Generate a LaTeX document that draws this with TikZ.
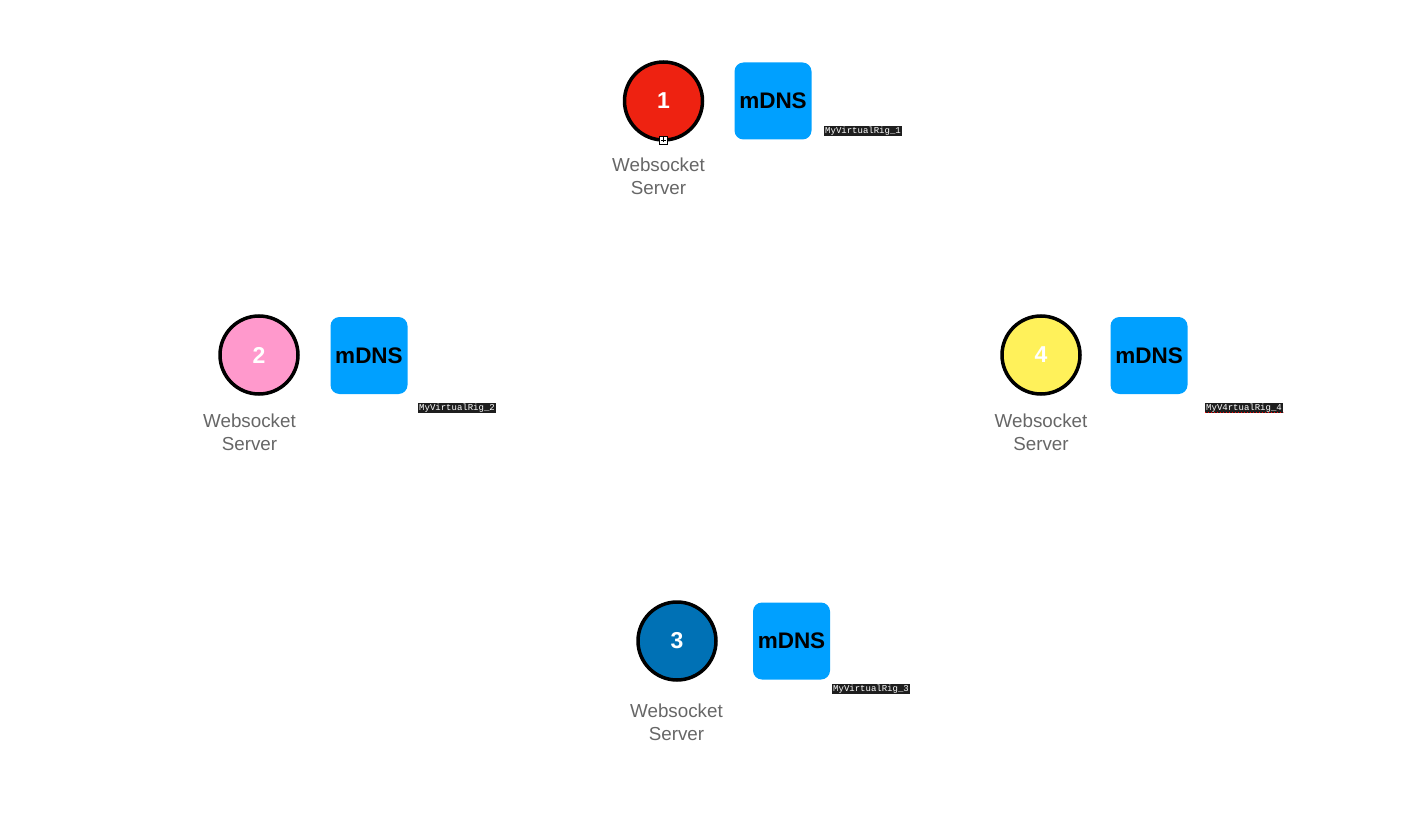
\documentclass[tikz,border=0pt]{standalone}
\usepackage{fontspec}
\setmainfont{Liberation Sans}
\newfontfamily\monofont{Liberation Mono}
\definecolor{cred}{HTML}{EE2211}
\definecolor{cpink}{HTML}{FF99CC}
\definecolor{cyellow}{HTML}{FFF15A}
\definecolor{cblue}{HTML}{0071B5}
\definecolor{mdnsblue}{HTML}{00A0FF}
\definecolor{lblgray}{HTML}{666666}
\definecolor{tagbg}{HTML}{1E1E1E}
\begin{document}
\begin{tikzpicture}[x=1pt,y=-1pt,
  server/.style={circle,draw=black,line width=3.5pt,minimum size=78pt,inner sep=0pt,
    font=\fontsize{23}{25}\selectfont\bfseries,text=white},
  mdns/.style={rounded corners=9pt,fill=mdnsblue,minimum size=77pt,inner sep=0pt,
    font=\fontsize{22.5}{24}\selectfont\bfseries,text=black},
  wslabel/.style={align=center,text=lblgray,font=\fontsize{18.8}{23}\selectfont,inner sep=0pt},
  tag/.style={fill=tagbg,text=white,font=\monofont\fontsize{9}{10}\selectfont,inner sep=1pt,anchor=west},
  plusbox/.style={draw=black,fill=white,line width=0.8pt,minimum size=8pt,inner sep=0pt}
]
\useasboundingbox (0,0) rectangle (1408,818);

% node 1
\node[server,fill=cred] (s1) at (663.5,101) {1};
\node[mdns] (m1) at (773,101) {mDNS};
\node[wslabel] (w1) at (658.5,176) {Websocket\\Server};
\node[tag] (t1) at (824,131) {MyVirtualRig\_1};
\node[plusbox] (p1) at (663.5,140) {};
\draw[line width=0.8pt] ([xshift=-2.5pt]p1.center) -- ([xshift=2.5pt]p1.center)
  ([yshift=-2.5pt]p1.center) -- ([yshift=2.5pt]p1.center);

% node 2
\node[server,fill=cpink] (s2) at (259,355) {2};
\node[mdns] (m2) at (369,355.5) {mDNS};
\node[wslabel] (w2) at (249.5,432) {Websocket\\Server};
\node[tag] (t2) at (418,408) {MyVirtualRig\_2};

% node 4
\node[server,fill=cyellow] (s4) at (1041,355) {4};
\node[mdns] (m4) at (1149,355.5) {mDNS};
\node[wslabel] (w4) at (1041,432) {Websocket\\Server};
\node[tag] (t4) at (1205,408) {MyV4rtualRig\_4};
\draw[red,dotted,line width=1pt] ([yshift=1pt]t4.south west) -- ([yshift=1pt]t4.south east);

% node 3
\node[server,fill=cblue] (s3) at (677,641) {3};
\node[mdns] (m3) at (791.5,641) {mDNS};
\node[wslabel] (w3) at (676.5,722) {Websocket\\Server};
\node[tag] (t3) at (832,689) {MyVirtualRig\_3};
\end{tikzpicture}
\end{document}
